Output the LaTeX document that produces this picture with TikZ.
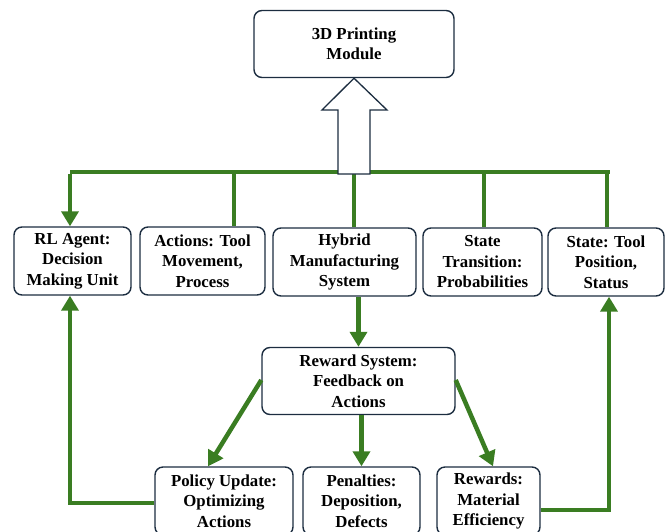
\documentclass[tikz,border=0pt]{standalone}
\usepackage{fontspec}
\setmainfont{Liberation Serif}[BoldFont={Liberation Serif Bold}]
\usetikzlibrary{arrows.meta}
\definecolor{gline}{RGB}{58,125,34}
\definecolor{navy}{RGB}{28,45,64}
\begin{document}
\begin{tikzpicture}[x=1pt,y=-1pt,
  box/.style={draw=navy,line width=1.4pt,rounded corners=8pt,fill=white,
    align=center,inner sep=0pt,font=\rmfamily\bfseries\fontsize{16.8}{20.5}\selectfont},
  gl/.style={draw=gline,line width=4.5pt},
  garr/.style={gl,-{Triangle[length=15pt,width=17pt]}}]
\useasboundingbox (0,0) rectangle (669,531);
\begin{scope}
\clip (0,0) rectangle (669,531);
% boxes
\node[box,minimum width=200pt,minimum height=67pt] (top) at (354,44) {3D Printing\\Module};
\node[box,minimum width=117pt,minimum height=68pt] (rl) at (72.5,261) {RL Agent:\\Decision\\Making Unit};
\node[box,minimum width=125pt,minimum height=68pt] (act) at (202.5,261) {Actions: Tool\\Movement,\\Process};
\node[box,minimum width=143pt,minimum height=68pt] (hyb) at (344.5,262) {Hybrid\\Manufacturing\\System};
\node[box,minimum width=119pt,minimum height=68pt] (str) at (482.5,262) {State\\Transition:\\Probabilities};
\node[box,minimum width=116pt,minimum height=68pt] (stt) at (606,262) {State: Tool\\Position,\\Status};
\node[box,minimum width=193pt,minimum height=67pt] (rew) at (358.5,381) {Reward System:\\Feedback on\\Actions};
\node[box,minimum width=138pt,minimum height=68pt] (pol) at (224,501) {Policy Update:\\Optimizing\\Actions};
\node[box,minimum width=117pt,minimum height=68pt] (pen) at (361.5,501) {Penalties:\\Deposition,\\Defects};
\node[box,minimum width=103pt,minimum height=68pt] (rwd) at (488.5,501) {Rewards:\\Material\\Efficiency};
% bus
\coordinate (busL) at (70,172);
\coordinate (busR) at (610,172);
\coordinate (b2) at (234,172);
\coordinate (b3) at (354,172);
\coordinate (b4) at (484,172);
\coordinate (b5) at (607,172);
\draw[gl] (busL) -- (busR);
\draw[garr] ([yshift=-2.25pt]busL) -- (busL |- rl.north);
\draw[gl] (b2) -- (b2 |- act.north);
\draw[gl] (b3) -- (b3 |- hyb.north);
\draw[gl] (b4) -- (b4 |- str.north);
\draw[gl] ([yshift=-2.25pt]b5) -- (b5 |- stt.north);
% hollow arrow to 3D printing module
\draw[navy,line width=1.3pt,fill=white,line join=miter]
  (338,174) -- (338,110) -- (322,110) -- (top.south) -- (387,110) -- (370,110) -- (370,174) -- cycle;
% lower connectors
\draw[garr] (rew.north |- hyb.south) -- (rew.north);
\draw[garr] (pen.north |- rew.south) -- (pen.north);
\draw[garr] ([yshift=1pt]rew.west) -- ([xshift=-16pt]pol.north);
\draw[garr] ([yshift=1pt]rew.east) -- ([xshift=4.5pt]rwd.north);
\draw[garr] ([yshift=-2pt]pol.west) -| ([xshift=-2.5pt]rl.south);
\draw[garr] ([yshift=-9pt]rwd.east) -| ([xshift=3pt]stt.south);
\end{scope}
\end{tikzpicture}
\end{document}
